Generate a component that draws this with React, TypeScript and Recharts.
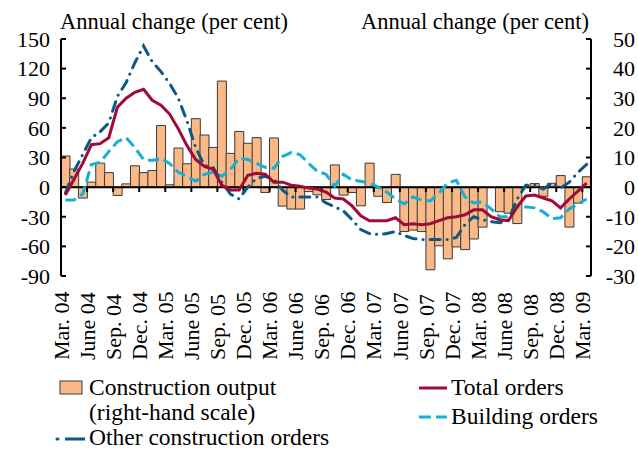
import { Bar, ComposedChart, Line, ReferenceLine, XAxis, YAxis } from "recharts"

const FONT = '"Liberation Serif", "DejaVu Serif", serif'

// x tick labels, one per quarter (Mar. 04 .. Mar. 09)
const quarterLabels = [
  "Mar. 04", "June 04", "Sep. 04", "Dec. 04",
  "Mar. 05", "June 05", "Sep. 05", "Dec. 05",
  "Mar. 06", "June 06", "Sep. 06", "Dec. 06",
  "Mar. 07", "June 07", "Sep. 07", "Dec. 07",
  "Mar. 08", "June 08", "Sep. 08", "Dec. 08",
  "Mar. 09",
]

// monthly values, Mar. 04 .. Mar. 09 (61 months)
// construction output, right-hand scale
const construction = [
  10.5, 6.1, -3.7, 1.7, 8.1, 4.9, -2.8, 1.1, 7.2, 4.9,
  5.6, 20.8, 0.8, 13.2, 7.9, 23.1, 17.6, 13.4, 35.8, 11.4,
  18.8, 14.8, 16.7, -1.8, 16.6, -6.4, -7.4, -7.4, -1.5, -2.6,
  -4.2, 7.5, -2.7, -1.8, -6.3, 8.1, -3.1, -5.2, 4.3, -15,
  -14.5, -15, -27.9, -19.8, -24.2, -20.2, -21.1, -17.5, -13.5, 0,
  -8.3, -8.8, -12.3, 0, 1.2, -3.1, 1.3, 3.9, -13.5, -5.4,
  3.5,
]

const totalOrders = [
  -8, 8, 24, 43, 44, 50, 81, 90, 96, 99,
  88, 83, 74, 59, 42, 28, 21, 18, 2, -3,
  -3, 12, 14, 13, 5, 5, 2, 1, -1, -2,
  -5, -11, -12, -19, -29, -34, -34, -34, -31, -38,
  -37, -38, -37, -34, -31, -30, -28, -23, -23, -30,
  -33, -34, -20, -9, -8, -11, -14, -21, -12, -4,
  4,
]

const otherOrders = [
  -6, 16, 33, 50, 56, 65, 92, 106, 126, 143,
  127, 117, 105, 90, 67, 40, 22, 20, 5, -7,
  -12, 0, 9, 11, 8, -3, -10, -10, -10, -10,
  -16, -20, -24, -33, -43, -47, -48, -47, -45, -49,
  -52, -53, -53, -53, -53, -51, -38, -30, -33, -35,
  -36, -33, -12, 2, 2, -2, 4, -1, 5, 15,
  23,
]

const buildingOrders = [
  -13, -13, -7, 23, 25, 36, 46, 50, 40, 28,
  27, 29, 24, 15, 11, 6, 13, 15, 11, 18,
  29, 28, 24, 20, 19, 31, 35, 33, 24, 16,
  13, 1, 13, 7, 6, 4, 0, -5, -12, -17,
  -10, -13, -14, -6, 4, 7, -10, -16, -15, -22,
  -30, -30, -20, -20, -21, -25, -32, -31, -22, -17,
  -12,
]

const leftTicks = [-90, -60, -30, 0, 30, 60, 90, 120, 150]
const rightTicks = [-30, -20, -10, 0, 10, 20, 30, 40, 50]
const quarterTicks = quarterLabels.map((_, i) => i * 3)

// each month sits in the middle of its slot, quarter ticks at slot edges
const rows = construction.map((c, i) => ({
  x: i + 0.5,
  construction: c,
  total: totalOrders[i],
  other: otherOrders[i],
  building: buildingOrders[i],
}))

const RED = "#9E0B38"
const NAVY = "#0A5A84"
const CYAN = "#17AFD3"
const ORANGE = "#FAB987"

function QuarterTick({ x, y, payload }: any) {
  const baseY = y + 84
  return (
    <text
      x={x}
      y={baseY}
      transform={`rotate(-90 ${x} ${baseY})`}
      dy="0.35em"
      fontSize={22}
      fontFamily={FONT}
      fill="#000"
    >
      {quarterLabels[Math.round(payload.value / 3)]}
    </text>
  )
}

const tickFont = { fill: "#000", fontSize: 22, fontFamily: FONT }

export default function App() {
  return (
    <div style={{ position: "absolute", left: 0, top: 0, width: 638, height: 450, background: "#fff", fontFamily: FONT }}>
      <ComposedChart
        width={638}
        height={370}
        data={rows}
        margin={{ top: 39, right: 0, bottom: 0, left: 6 }}
        barCategoryGap={0}
        barGap={0}
      >
        <XAxis
          type="number"
          dataKey="x"
          domain={[0, 61]}
          ticks={quarterTicks}
          interval={0}
          tick={<QuarterTick />}
          tickLine={false}
          axisLine={false}
          tickSize={0}
          tickMargin={0}
          height={94}
        />
        <YAxis
          yAxisId="left"
          domain={[-90, 150]}
          ticks={leftTicks}
          interval={0}
          width={55}
          axisLine={{ stroke: "#000", strokeWidth: 2 }}
          tickLine={{ stroke: "#000", strokeWidth: 2 }}
          tickSize={-5}
          tickMargin={16}
          tick={tickFont}
        />
        <YAxis
          yAxisId="right"
          orientation="right"
          domain={[-30, 50]}
          ticks={rightTicks}
          interval={0}
          width={47}
          axisLine={{ stroke: "#000", strokeWidth: 2 }}
          tickLine={{ stroke: "#000", strokeWidth: 2 }}
          tickSize={-5}
          tickMargin={49}
          tick={{ ...tickFont, textAnchor: "end" }}
        />
        <Bar
          yAxisId="right"
          dataKey="construction"
          fill={ORANGE}
          stroke="#3a3a3a"
          strokeWidth={1}
          isAnimationActive={false}
        />
        <ReferenceLine yAxisId="left" y={0} stroke="#000" strokeWidth={2} />
        {quarterTicks.slice(1).map((q) => (
          <ReferenceLine
            key={q}
            yAxisId="left"
            segment={[{ x: q, y: 0 }, { x: q, y: -5 }]}
            stroke="#000"
            strokeWidth={2}
          />
        ))}
        <Line
          yAxisId="left"
          type="linear"
          dataKey="building"
          stroke={CYAN}
          strokeWidth={3}
          strokeDasharray="11 5"
          dot={false}
          isAnimationActive={false}
        />
        <Line
          yAxisId="left"
          type="linear"
          dataKey="other"
          stroke={NAVY}
          strokeWidth={3}
          strokeDasharray="10 7 0.1 7"
          strokeLinecap="round"
          dot={false}
          isAnimationActive={false}
        />
        <Line
          yAxisId="left"
          type="linear"
          dataKey="total"
          stroke={RED}
          strokeWidth={3}
          dot={false}
          isAnimationActive={false}
        />
      </ComposedChart>

      <svg
        width={638}
        height={450}
        style={{ position: "absolute", left: 0, top: 0, pointerEvents: "none" }}
        fontFamily={FONT}
      >
        <g fontSize={22.5}>
          <text x={60} y={29} fill="#000">Annual change (per cent)</text>
          <text x={589} y={29} fill="#000" textAnchor="end">Annual change (per cent)</text>
        </g>

        {/* legend */}
        <g fontSize={23.5}>
          <rect x={60} y={381} width={22} height={13} fill={ORANGE} stroke="#3a3a3a" strokeWidth={1} />
          <text x={89} y={395} fill="#000">Construction output</text>
          <text x={89} y={420} fill="#000">(right-hand scale)</text>
          <line x1={57} y1={439} x2={58} y2={439} stroke={NAVY} strokeWidth={3} strokeLinecap="round" />
          <line x1={65} y1={439} x2={85} y2={439} stroke={NAVY} strokeWidth={3} />
          <text x={89} y={445} fill="#000">Other construction orders</text>

          <line x1={419} y1={388} x2={447} y2={388} stroke={RED} strokeWidth={3} />
          <text x={451} y={395} fill="#000">Total orders</text>
          <line x1={419} y1={417} x2={447} y2={417} stroke={CYAN} strokeWidth={3} strokeDasharray="12 5" />
          <text x={451} y={424} fill="#000">Building orders</text>
        </g>
      </svg>
    </div>
  )
}
